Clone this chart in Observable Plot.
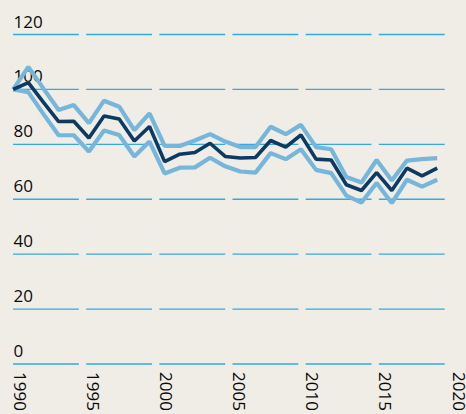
<!DOCTYPE html>
<html>
<head>
<meta charset="utf-8">
<script src="https://cdn.jsdelivr.net/npm/d3@7"></script>
<script src="https://cdn.jsdelivr.net/npm/@observablehq/plot@0.6"></script>
<style>
  html, body { margin: 0; padding: 0; background: #f0ece6; }
  #wrap { position: relative; width: 466px; height: 414px; overflow: hidden; background: #f0ece6; }
  #wrap svg { position: absolute; left: 0; top: 0; background: transparent; overflow: visible; }
</style>
</head>
<body>
<div id="wrap"></div>
<script>
// Data (index, 1990 = 100)
const years = [1990, 1991, 1992, 1993, 1994, 1995, 1996, 1997, 1998, 1999,
               2000, 2001, 2002, 2003, 2004, 2005, 2006, 2007, 2008, 2009,
               2010, 2011, 2012, 2013, 2014, 2015, 2016, 2017, 2018];
const central = [100, 102.5, 95.3, 88.3, 88.4, 82.3, 90.3, 89.2, 81.2, 86.5,
                 73.7, 76.4, 77.0, 80.4, 75.6, 75.0, 75.2, 81.4, 79.0, 83.4,
                 74.6, 74.3, 65.3, 63.2, 69.7, 63.2, 71.3, 68.5, 71.3];
const upper = [100, 108.2, 100.3, 92.5, 94.3, 87.7, 95.9, 93.7, 85.2, 91.3,
               79.4, 79.4, 81.4, 83.7, 81.0, 79.0, 79.0, 86.4, 83.7, 87.1,
               79.0, 78.2, 68.1, 66.1, 74.3, 66.8, 74.1, 74.6, 75.0];
const lower = [100, 99.0, 91.0, 83.3, 83.3, 77.4, 85.0, 83.4, 75.6, 81.0,
               69.4, 71.5, 71.6, 75.1, 72.0, 70.1, 69.7, 76.8, 74.6, 78.2,
               70.7, 69.5, 61.3, 58.8, 65.9, 58.6, 67.1, 64.6, 67.1];
const xTicks = [1990, 1995, 2000, 2005, 2010, 2015, 2020];
const yTicks = [0, 20, 40, 60, 80, 100, 120];

const W = 466, H = 414;
const font = "'Open Sans', 'DejaVu Sans', sans-serif";
const yOpts = {domain: [0, 120]};
const mTop = 34, mBottom = 50.5;

// Grid segments (one per 5-year block) and axis labels
const segStarts = xTicks.slice(0, -1);
const grid = [];
for (const y of yTicks) for (const x of segStarts) grid.push({x, y});

const base = Plot.plot({
  width: W, height: H,
  marginLeft: 13, marginRight: 14, marginTop: mTop, marginBottom: mBottom,
  x: {domain: [1990, 2020], axis: null},
  y: {...yOpts, axis: null},
  style: {background: "transparent", fontFamily: font, overflow: "visible"},
  marks: [
    Plot.ruleY(grid, {y: "y", x1: "x", x2: d => d.x + 4.5, stroke: "#35a9e1", strokeWidth: 1.3}),
    Plot.text(yTicks, {x: () => 1990, y: d => d, text: d => String(d), textAnchor: "start",
      lineAnchor: "bottom", dy: -7, fontSize: 17, fill: "#0a0a0a"}),
    Plot.text(xTicks, {x: d => d, y: () => 0, text: d => String(d), textAnchor: "start",
      lineAnchor: "bottom", rotate: 90, dy: 8, fontSize: 17, fill: "#0a0a0a"})
  ]
});

const series = years.map((yr, i) => ({year: yr, central: central[i], upper: upper[i], lower: lower[i]}));

const lines = Plot.plot({
  width: W, height: H,
  marginLeft: 12.7, marginRight: 29.3, marginTop: mTop, marginBottom: mBottom,
  x: {domain: [1990, 2018], axis: null},
  y: {...yOpts, axis: null},
  style: {background: "transparent", fontFamily: font},
  marks: [
    Plot.line(series, {x: "year", y: "upper", stroke: "#76b6da", strokeWidth: 4.2, strokeLinejoin: "miter", strokeLinecap: "butt"}),
    Plot.line(series, {x: "year", y: "lower", stroke: "#76b6da", strokeWidth: 4.2, strokeLinejoin: "miter", strokeLinecap: "butt"}),
    Plot.line(series, {x: "year", y: "central", stroke: "#0c3a63", strokeWidth: 3.6, strokeLinejoin: "miter", strokeLinecap: "butt"})
  ]
});

const wrap = document.getElementById("wrap");
wrap.appendChild(base);
wrap.appendChild(lines);
</script>
</body>
</html>
